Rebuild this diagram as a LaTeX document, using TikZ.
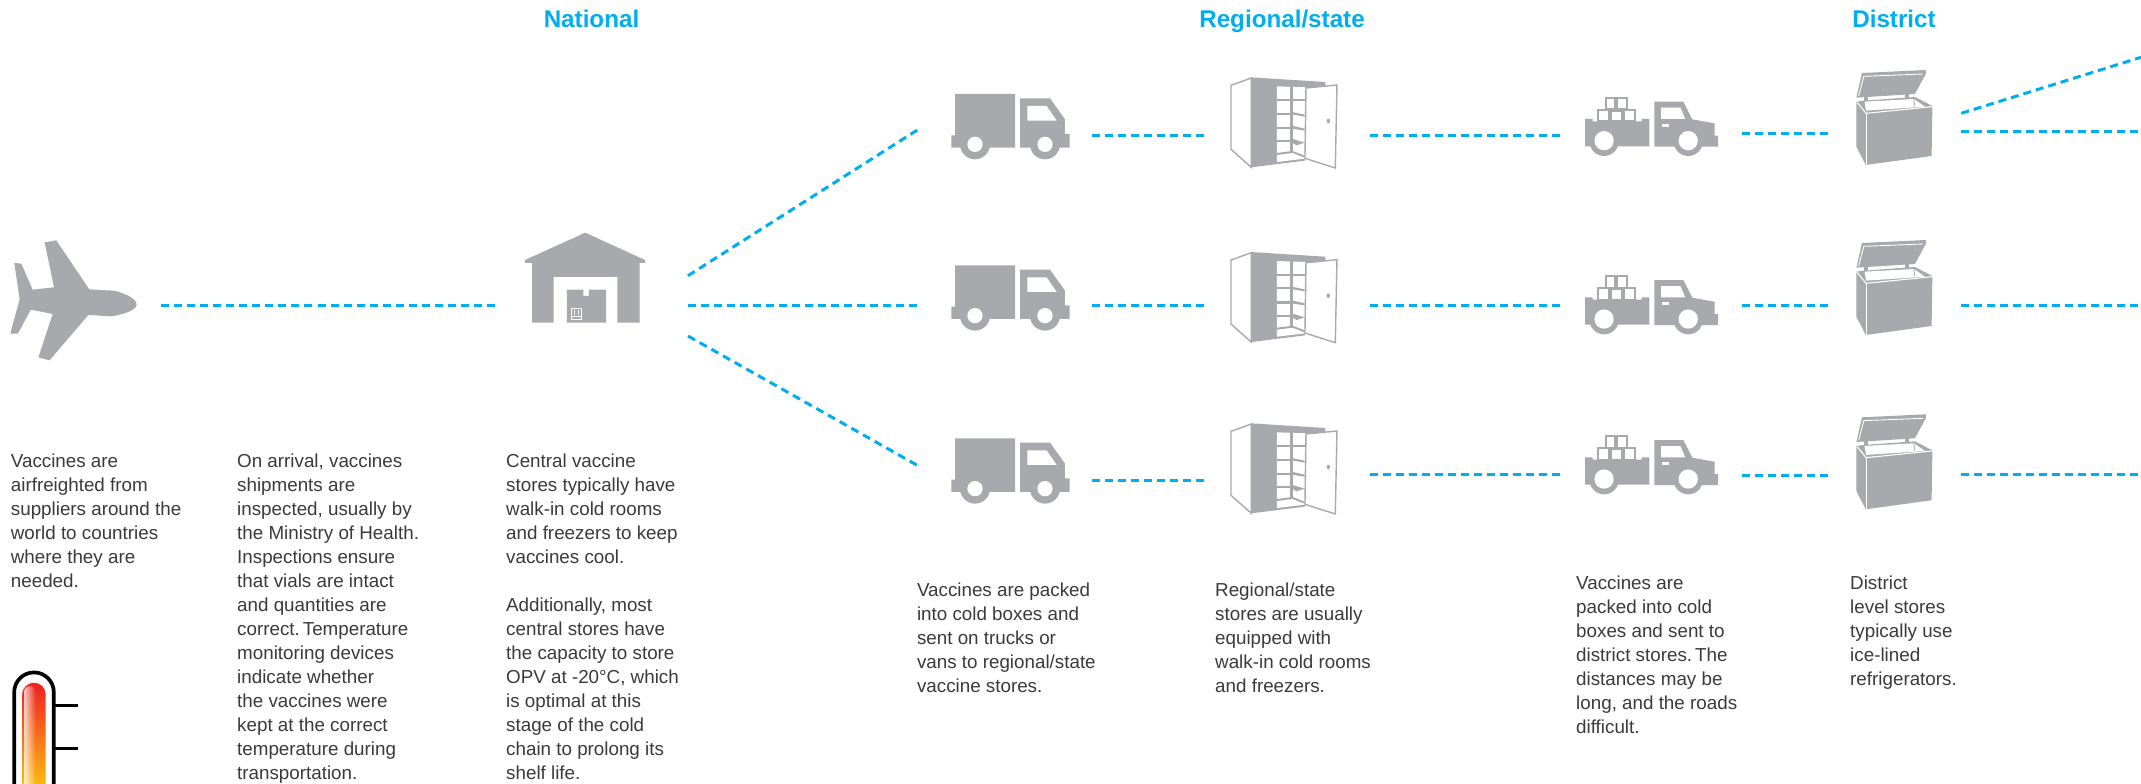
\documentclass[tikz,border=0pt]{standalone}
\usepackage{fontspec}
\setmainfont{Liberation Sans}
\usetikzlibrary{fadings}
\definecolor{iconG}{HTML}{A7A9AC}
\definecolor{skyB}{HTML}{00AEEF}
\definecolor{bodyT}{HTML}{3A3A3C}
\definecolor{thermR}{HTML}{ED2024}
\definecolor{thermO}{HTML}{F58220}
\definecolor{thermY}{HTML}{FDB913}
\tikzset{
  conn/.style={draw=skyB,line width=3pt,dash pattern=on 8pt off 5pt},
  connp/.style={conn,dash pattern=on 8pt off #1pt},
  body/.style={anchor=north west,inner sep=0pt,align=left,text=bodyT,font=\fontsize{18.8}{24}\selectfont},
  head/.style={anchor=base,inner sep=0pt,text=skyB,font=\fontsize{24.2}{28}\selectfont\bfseries},
  pics/truckicon/.style={code={
    \begin{scope}[xscale=.3333,yscale=.3333]
      \fill[iconG] (75,102) -- (255,102) -- (255,263) -- (64,263) -- (64,226) -- (75,226) -- cycle;
      \fill[iconG] (270,115) -- (360,115) -- (405,178) -- (405,222) -- (419,222) -- (419,263) -- (270,263) -- cycle;
      \fill[iconG] (135,253) circle[radius=45];
      \fill[iconG] (345,253) circle[radius=45];
      \fill[white] (135,253) circle[radius=23];
      \fill[white] (345,253) circle[radius=23];
      \fill[white] (292,138) -- (350,138) -- (380,182) -- (292,182) -- cycle;
    \end{scope}}},
  pics/cabicon/.style={code={
    \begin{scope}[xscale=.3333,yscale=.3333]
      \draw[iconG,line width=1.4pt,fill=white,line join=miter] (903,76) -- (964,54) -- (964,322) -- (903,268) -- cycle;
      \fill[iconG] (964,52) -- (1186,66) -- (1186,78) -- (1128,84) -- (1125,302) -- (964,322) -- cycle;
      \fill[white] (1041,79) -- (1128,82) -- (1125,296) -- (1041,306) -- cycle;
      \fill[iconG] (1081,78) rectangle (1088,278);
      \fill[iconG] (1041,117) rectangle (1125,123);
      \fill[iconG] (1041,158) rectangle (1088,164);
      \fill[iconG] (1085,156) -- (1124,164) -- (1124,170) -- (1085,163) -- cycle;
      \fill[iconG] (1041,200) rectangle (1088,207);
      \fill[iconG] (1085,197) -- (1124,206) -- (1124,212) -- (1085,206) -- cycle;
      \fill[iconG] (1041,241) rectangle (1088,247);
      \fill[iconG] (1085,236) -- (1124,248) -- (1100,256) -- (1085,247) -- cycle;
      \fill[iconG] (1041,279) -- (1088,273) -- (1124,287) -- (1124,293) -- (1088,279) -- (1041,285) -- cycle;
      \draw[iconG,line width=1.4pt,fill=white,line join=miter] (1128,84) -- (1221,75) -- (1216,324) -- (1125,295) -- cycle;
      \fill[iconG] (1195,183) ellipse[x radius=5,y radius=7];
    \end{scope}}},
  pics/pickupicon/.style={code={
    \begin{scope}[xscale=.3705,yscale=.3333]
      \foreach \xa/\xb/\ya/\yb in {124/149/144/178,154/180/144/178,102/131/180/214,137/166/182/214,174/203/180/214}
        \draw[iconG,line width=2pt,fill=white] (\xa,\ya) rectangle (\xb,\yb);
      \fill[iconG] (68,207) -- (88,207) -- (88,214) -- (220,214) -- (220,207) -- (241,207) -- (241,289) -- (68,289) -- cycle;
      \fill[iconG] (255,155) -- (333,155) -- (357,208) -- (417,220) -- (417,257) -- (427,257) -- (427,290) -- (255,290) -- cycle;
      \fill[iconG] (119,272) ellipse[x radius=40,y radius=46];
      \fill[iconG] (346,272) ellipse[x radius=40,y radius=46];
      \fill[white] (119,272) ellipse[x radius=26,y radius=29];
      \fill[white] (346,272) ellipse[x radius=26,y radius=29];
      \fill[white] (273,173) -- (325,173) -- (338,207) -- (273,207) -- cycle;
      \fill[white] (275,222) rectangle (295,231);
    \end{scope}}},
  pics/freezericon/.style={code={
    \begin{scope}[xscale=.3705,yscale=.3333]
      % lid
      \fill[iconG] (815,69) -- (987,60) -- (988,70) -- (958,132) -- (800,143) -- cycle;
      \draw[white,line width=.9pt] (980,72) -- (820,79) -- (806,138);
      \fill[iconG] (820,140) rectangle (830,156);
      \fill[iconG] (931,132) rectangle (942,148);
      % body
      \fill[iconG] (800,155) -- (820,152) -- (958,141) -- (1005,168) -- (1003,318) -- (825,345) -- (800,290) -- cycle;
      \fill[white] (822,155) -- (955,147) -- (985,170) -- (826,182) -- cycle;
      \draw[iconG,line width=.9pt] (955,148) -- (957,168);
      \draw[white,line width=1.1pt] (802,157) -- (826,190) -- (1005,170);
      \draw[white,line width=1.1pt] (826,190) -- (826,345);
    \end{scope}}}
}
\begin{document}
\begin{tikzpicture}[x=1pt,y=-1pt]
\useasboundingbox (0,0) rectangle (2141,784);
% plane
\begin{scope}[shift={(0,200)},xscale=.4464,yscale=.3333]
  \fill[iconG] (32,189) -- (48,191) -- (73,269) -- (121,262) -- (100,127) -- (126,121) -- (200,268) -- (255,272)
    .. controls (280,280) and (306,295) .. (306,314) .. controls (306,330) and (280,342) .. (250,349)
    -- (198,345) -- (111,481) -- (86,472) -- (118,342) -- (69,329) -- (40,401) -- (23,401) -- (44,298) -- cycle;
  % warehouse
  \fill[iconG] (1176,180) -- (1311,98) -- (1445,180) -- (1445,189) -- (1433,189) -- (1433,368) -- (1383,368) -- (1383,231) -- (1240,231) -- (1240,368) -- (1192,368) -- (1192,189) -- (1176,189) -- cycle;
  \fill[iconG] (1270,269) -- (1307,269) -- (1307,288) -- (1319,288) -- (1319,269) -- (1358,269) -- (1358,368) -- (1270,368) -- cycle;
  \draw[white,line width=.6pt] (1280,326) rectangle (1302,357);
  \draw[white,line width=.6pt] (1280,350) -- (1302,350);
  \draw[white,line width=.5pt] (1287,331) -- (1287,346) (1295,331) -- (1295,346);
\end{scope}
% thermometer
\begin{scope}
  \clip (0,0) rectangle (2141,784);
  \draw[black,line width=3.7pt] (14.2,800) -- (14.2,692.2) arc[start angle=180,end angle=360,radius=19.8] -- (53.8,800);
  \shade[top color=thermR,middle color=thermO,bottom color=thermY]
    (22.3,784) -- (22.3,694.4) arc[start angle=180,end angle=360,radius=11.7] -- (45.7,784) -- cycle;
  \fill[white,path fading=east,fill opacity=.75] (24,800) -- (24,692) arc[start angle=180,end angle=360,radius=5.8] -- (35.6,800) -- cycle;
  \draw[black,line width=2.7pt] (54,705.7) -- (78.3,705.7);
  \draw[black,line width=2.7pt] (54,748.3) -- (78.3,748.3);
\end{scope}
% icons
\pic at (930,60) {truckicon};
\pic at (930,231.3) {truckicon};
\pic at (930,404.3) {truckicon};
\pic at (930,60) {cabicon};
\pic at (930,234.7) {cabicon};
\pic at (930,406) {cabicon};
\pic at (1560,50) {pickupicon};
\pic at (1560,228.4) {pickupicon};
\pic at (1560,388.4) {pickupicon};
\pic at (1560,50) {freezericon};
\pic at (1560,220) {freezericon};
\pic at (1560,394.3) {freezericon};
% connector ends
\coordinate (planeE) at (160.7,305.3);
\coordinate (wareW) at (495.5,305.3);
\coordinate (fanT) at (688,275.7);
\coordinate (fanM) at (688,305.3);
\coordinate (fanB) at (688,336);
\coordinate (trkA) at (917.3,130);
\coordinate (trkB) at (917.3,305.3);
\coordinate (trkC) at (916.7,465);
\foreach \n/\ya/\yb/\yc in {a/135/135/133.3,b/305.7/305.7/305.7,c/480.3/474.3/475.6}{
  \coordinate (t\n) at (1092,\ya);
  \coordinate (u\n) at (1204,\ya);
  \coordinate (v\n) at (1370,\yb);
  \coordinate (w\n) at (1560,\yb);
  \coordinate (x\n) at (1742.3,\yc);
  \coordinate (y\n) at (1827.5,\yc);
}
\coordinate (frzDiag) at (1961.3,113.3);
\coordinate (outDiag) at (2141,57.3);
\coordinate (frzA) at (1961.3,131.3);
\coordinate (outA) at (2141,131.3);
\coordinate (frzB) at (1961.3,305.7);
\coordinate (outB) at (2141,305.7);
\coordinate (frzC) at (1961.3,474.3);
\coordinate (outC) at (2141,474.3);
\draw[connp=5.07] (planeE) -- (wareW);
\draw[connp=5.18] (fanT) -- (trkA);
\draw[conn] (fanM) -- (trkB);
\draw[connp=5.4] (fanB) -- (trkC);
\foreach \n in {a,b,c}{
  \draw[conn] (t\n) -- (u\n);
  \draw[conn] (v\n) -- (w\n);
  \draw[connp=4.87] (x\n) -- (y\n);
}
\draw[conn] (frzDiag) -- (outDiag);
\draw[conn] (frzA) -- (outA);
\draw[conn] (frzB) -- (outB);
\draw[conn] (frzC) -- (outC);
% headings
\node[head] (hNat) at (591.5,28) {National};
\node[head] (hReg) at (1282,28) {Regional/state};
\node[head] (hDis) at (1894,28) {District};
% texts
\node[body] (tA) at (10.7,450.9) {\strut Vaccines are\\airfreighted from\\suppliers around the\\world to countries\\where they are\\needed.};
\node[body] (tB) at (237,450.9) {\strut On arrival, vaccines\\shipments are\\inspected, usually by\\the Ministry of Health.\\Inspections ensure\\that vials are intact\\and quantities are\\correct.\hspace{-4pt} Temperature\\monitoring devices\\indicate whether\\the vaccines were\\kept at the correct\\temperature during\\transportation.};
\node[body] (tC) at (506,450.9) {\strut Central vaccine\\stores typically have\\walk-in cold rooms\\and freezers to keep\\vaccines cool.\\[24pt]Additionally, most\\central stores have\\the capacity to store\\OPV at -20°C, which\\is optimal at this\\stage of the cold\\chain to prolong its\\shelf life.};
\node[body] (tD) at (916.8,579.4) {\strut Vaccines are packed\\into cold boxes and\\sent on trucks or\\vans to regional/state\\vaccine stores.};
\node[body] (tE) at (1215,579.4) {\strut Regional/state\\stores are usually\\equipped with\\walk-in cold rooms\\and freezers.};
\node[body] (tF) at (1576,572.9) {\strut Vaccines are\\packed into cold\\boxes and sent to\\district stores.\hspace{-4pt} The\\distances may be\\long, and the roads\\difficult.};
\node[body] (tG) at (1850,572.9) {\strut District\\level stores\\typically use\\ice-lined\\refrigerators.};
\end{tikzpicture}
\end{document}
